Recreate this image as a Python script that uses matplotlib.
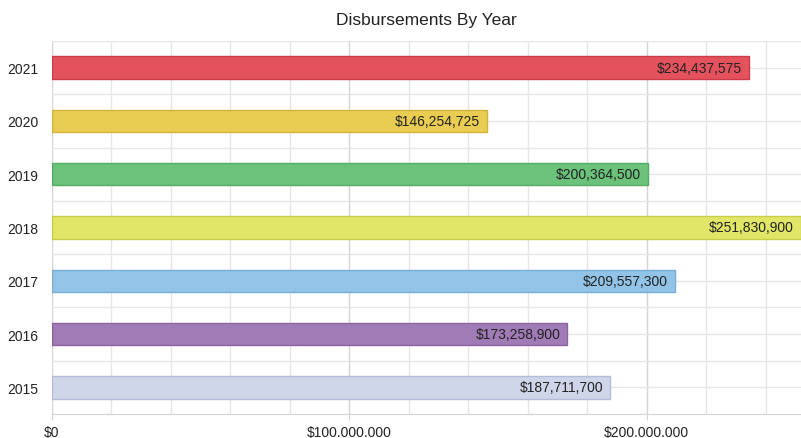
import matplotlib.pyplot as plt
import numpy as np
from matplotlib.ticker import MultipleLocator, FuncFormatter

plt.rcParams['font.family'] = ['Liberation Sans', 'DejaVu Sans']

# Data
years = ['2015', '2016', '2017', '2018', '2019', '2020', '2021']
amounts = [187711700, 173258900, 209557300, 251830900, 200364500, 146254725, 234437575]
colors = ['#cfd6ea', '#a07bb6', '#92c4e7', '#e1e666', '#6bc27b', '#e9cc52', '#e4525e']
edges = ['#b3bcd9', '#8a63a0', '#78add6', '#c8cd4e', '#55ab65', '#d2b43c', '#c93d49']

fig = plt.figure(figsize=(8.01, 4.39), dpi=100)
ax = fig.add_axes([52 / 801, 24 / 439, 749 / 801, 373 / 439])

y = np.arange(len(years))
bars = ax.barh(y, amounts, height=0.42, color=colors, edgecolor=edges, linewidth=1, zorder=3)

for rect, val in zip(bars, amounts):
    ax.annotate(f'${val:,}', xy=(rect.get_width(), rect.get_y() + rect.get_height() / 2),
                xytext=(-5, 0), textcoords='offset points', ha='right', va='center',
                fontsize=10, color='#222222', zorder=4)

ax.set_xlim(0, 251.9e6)
ax.set_ylim(-0.5, len(years) - 0.5)
ax.set_yticks(y)
ax.set_yticklabels(years)
ax.yaxis.set_minor_locator(MultipleLocator(0.5))
ax.xaxis.set_major_locator(MultipleLocator(100e6))
ax.xaxis.set_minor_locator(MultipleLocator(20e6))
ax.xaxis.set_major_formatter(FuncFormatter(lambda v, p: '$' + f'{int(v):,}'.replace(',', '.')))

ax.grid(which='minor', color='#e6e6e6', linewidth=1, zorder=0)
ax.grid(which='major', axis='x', color='#d4d4d4', linewidth=1, zorder=0)
ax.grid(which='major', axis='y', color='#e6e6e6', linewidth=1, zorder=0)

for s in ['top', 'right', 'left']:
    ax.spines[s].set_visible(False)
ax.spines['bottom'].set_color('#d4d4d4')

ax.tick_params(axis='x', which='major', length=4, color='#d4d4d4', labelsize=10, pad=4, labelcolor='#222222')
ax.tick_params(axis='x', which='minor', length=0)
ax.tick_params(axis='y', which='both', length=0, labelsize=10, pad=10, labelcolor='#222222')

ax.set_title('Disbursements By Year', fontsize=12.5, color='#222222', pad=12)

fig.savefig('out.png', dpi=100)
